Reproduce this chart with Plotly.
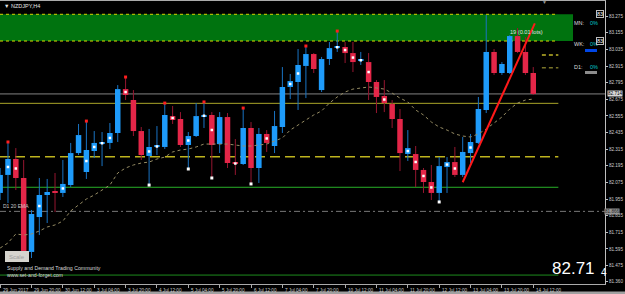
import plotly.graph_objects as go

# ---------------- data (NZDJPY, H4) ----------------
bar_index = list(range(-4, 65))
open_ = [81.999, 82.129, 82.244, 82.107, 81.573, 81.825, 81.984, 82.013, 81.999, 82.056,
         82.287, 82.150, 82.302, 82.356, 82.360, 82.432, 82.749, 82.670, 82.446, 82.266,
         82.331, 82.331, 82.554, 82.533, 82.345, 82.410, 82.551, 82.562, 82.352, 82.547,
         82.215, 82.208, 82.468, 82.179, 82.425, 82.338, 82.475, 82.764, 82.800, 82.916,
         83.002, 82.742, 82.966, 83.049, 83.053, 83.009, 82.955, 82.944, 82.800, 82.699,
         82.641, 82.533, 82.280, 82.280, 82.165, 82.078, 81.999, 82.186, 82.222, 82.129,
         82.287, 82.360, 82.598, 83.017, 82.865, 82.865, 83.132, 83.017, 82.865]
high = [82.179, 82.367, 82.323, 82.237, 81.876, 82.107, 82.100, 82.143, 82.237, 82.360,
        82.497, 82.518, 82.446, 82.439, 82.504, 82.778, 82.836, 82.742, 82.475, 82.461,
        82.482, 82.648, 82.627, 82.583, 82.439, 82.648, 82.656, 82.583, 82.583, 82.576,
        82.388, 82.612, 82.511, 82.468, 82.453, 82.591, 82.908, 82.858, 83.038, 83.060,
        83.009, 82.981, 83.089, 83.168, 83.089, 83.089, 83.017, 83.009, 82.814, 82.814,
        82.670, 82.605, 82.453, 82.338, 82.179, 82.201, 82.258, 82.258, 82.331, 82.403,
        82.425, 82.692, 83.284, 83.038, 82.944, 83.139, 83.190, 83.125, 82.908]
low = [81.948, 81.926, 82.020, 81.544, 81.529, 81.695, 81.782, 81.861, 81.970, 82.042,
       82.273, 82.100, 82.251, 82.193, 82.316, 82.367, 82.670, 82.410, 82.237, 82.056,
       82.273, 82.316, 82.497, 82.331, 82.172, 82.403, 82.468, 82.107, 82.287, 82.179,
       82.129, 82.201, 82.064, 82.071, 82.295, 82.287, 82.432, 82.677, 82.598, 82.684,
       82.865, 82.728, 82.923, 83.017, 82.937, 82.872, 82.923, 82.670, 82.576, 82.583,
       82.468, 82.157, 82.230, 82.042, 81.999, 81.948, 81.934, 81.999, 82.114, 82.114,
       82.215, 82.352, 82.576, 82.851, 82.851, 82.858, 83.009, 82.851, 82.706]
close = [82.129, 82.244, 82.107, 81.580, 81.847, 81.984, 82.006, 81.999, 82.064, 82.287,
         82.417, 82.309, 82.360, 82.360, 82.432, 82.749, 82.706, 82.446, 82.273, 82.331,
         82.338, 82.562, 82.526, 82.345, 82.410, 82.554, 82.562, 82.345, 82.547, 82.215,
         82.208, 82.468, 82.179, 82.425, 82.360, 82.482, 82.764, 82.807, 82.923, 83.002,
         82.894, 82.966, 83.045, 83.053, 83.009, 82.944, 82.959, 82.800, 82.692, 82.648,
         82.533, 82.287, 82.323, 82.165, 82.078, 81.999, 82.193, 82.222, 82.129, 82.295,
         82.367, 82.605, 83.017, 82.865, 82.930, 83.132, 83.017, 82.865, 82.714]
ema_h4 = [81.601, 81.638, 81.703, 81.695, 81.703, 81.724, 81.753, 81.768, 81.796, 81.869,
          81.912, 81.955, 81.984, 82.020, 82.056, 82.143, 82.179, 82.201, 82.215, 82.222,
          82.244, 82.258, 82.295, 82.309, 82.316, 82.331, 82.352, 82.352, 82.352, 82.352,
          82.345, 82.338, 82.338, 82.345, 82.352, 82.374, 82.396, 82.453, 82.490, 82.526,
          82.562, 82.591, 82.648, 82.692, 82.728, 82.749, 82.757, 82.764, 82.757, 82.749,
          82.720, 82.684, 82.656, 82.598, 82.562, 82.511, 82.475, 82.453, 82.425, 82.410,
          82.403, 82.425, 82.461, 82.504, 82.547, 82.605, 82.648, 82.670, 82.677]

up_fractal_bars = [-3, 7, 12, 17, 22, 27, 35, 39]
down_fractal_bars = [15, 20, 23, 28, 52]
signal_bars = [-3, -2, 1, 4, 7, 8, 9, 10, 12, 15, 16, 18, 20, 22, 23, 26, 30, 33, 34,
               39, 40, 41, 42, 43, 45, 48, 49, 50, 51, 53, 54, 56]

time_tick_bars = [-4] + list(range(0, 65, 4))
time_tick_labels = ["29 Jun 2017", "29 Jun 20:00", "30 Jun 12:00", "3 Jul 04:00", "3 Jul 20:00",
                    "4 Jul 12:00", "5 Jul 04:00", "5 Jul 20:00", "6 Jul 12:00", "7 Jul 04:00",
                    "7 Jul 20:00", "10 Jul 12:00", "11 Jul 04:00", "11 Jul 20:00", "12 Jul 12:00",
                    "13 Jul 04:00", "13 Jul 20:00", "14 Jul 12:00"]
price_ticks = [83.275, 83.155, 83.035, 82.915, 82.795, 82.675, 82.555, 82.435, 82.315,
               82.195, 82.075, 81.955, 81.835, 81.715, 81.595, 81.475, 81.360]

zone_top, zone_bottom = 83.289, 83.096
bid = 82.714
level_yellow = 82.646
level_dashed = 82.261
level_green = 82.040
d1_ema = 81.866
level_green_low = 81.406
mark_levels = [82.995, 82.903]
trend_x = [55.0, 64.2]
trend_y = [82.076, 83.224]
lot_text = "19 (0.01 lots)"
lot_pos = (60.8, 83.161)

# ---------------- geometry ----------------
X_RANGE = [-4.018, 73.15]
Y_RANGE = [81.3415, 83.385]
LINE_END = 67.2
ZONE_END = 69.07
FONT = "Liberation Sans, Arial, sans-serif"

def px(X):
    return X / 605.0

def py(Y):
    return (284.0 - Y) / 283.0

BLUE = "rgb(30,155,250)"
RED = "rgb(228,38,72)"
BLUE_WICK = "rgb(25,115,195)"
RED_WICK = "rgb(150,22,48)"

fig = go.Figure()

# wicks
for up, col in [(True, BLUE_WICK), (False, RED_WICK)]:
    xs, ys = [], []
    for i, o, h, l, c in zip(bar_index, open_, high, low, close):
        if (c >= o) != up:
            continue
        top, bot = max(o, c), min(o, c)
        xs += [i, i, None, i, i, None]
        ys += [h, top, None, bot, l, None]
    fig.add_trace(go.Scatter(x=xs, y=ys, mode="lines", line=dict(color=col, width=1),
                             hoverinfo="skip", connectgaps=False))

# bodies
bases = [min(o, c) for o, c in zip(open_, close)]
heights = [max(abs(c - o), 0.009) for o, c in zip(open_, close)]
colors = [BLUE if c >= o else RED for o, c in zip(open_, close)]
fig.add_trace(go.Bar(x=bar_index, y=heights, base=bases, width=0.7,
                     marker=dict(color=colors, line=dict(width=0)), hoverinfo="skip"))

# moving average
fig.add_trace(go.Scatter(x=bar_index, y=ema_h4, mode="lines",
                         line=dict(color="rgb(150,140,100)", width=1, dash="dot"),
                         hoverinfo="skip"))

# markers
pos = {b: k for k, b in enumerate(bar_index)}
fig.add_trace(go.Scatter(x=up_fractal_bars, y=[high[pos[b]] for b in up_fractal_bars],
                         mode="markers", marker=dict(symbol="square", size=3, color="rgb(255,30,30)"),
                         hoverinfo="skip"))
fig.add_trace(go.Scatter(x=down_fractal_bars, y=[low[pos[b]] for b in down_fractal_bars],
                         mode="markers", marker=dict(symbol="square", size=3, color="white"),
                         hoverinfo="skip"))
fig.add_trace(go.Scatter(x=signal_bars,
                         y=[(open_[pos[b]] + close[pos[b]]) / 2 for b in signal_bars],
                         mode="markers", marker=dict(symbol="square", size=2.5, color="white"),
                         hoverinfo="skip"))

# trend line
fig.add_trace(go.Scatter(x=trend_x, y=trend_y, mode="lines",
                         line=dict(color="rgb(255,25,25)", width=2), hoverinfo="skip"))

shapes = []
shapes.append(dict(type="rect", xref="x", yref="y", x0=X_RANGE[0], x1=ZONE_END,
                   y0=zone_bottom, y1=zone_top, fillcolor="rgb(0,115,15)",
                   line=dict(width=0), layer="below"))
for yv in [zone_top, zone_bottom]:
    shapes.append(dict(type="line", xref="x", yref="y", x0=X_RANGE[0], x1=LINE_END - 0.15,
                       y0=yv, y1=yv, line=dict(color="rgb(215,215,0)", width=1, dash="dot"),
                       layer="below"))

def hline(yv, color, dash="solid", width=1, x1=LINE_END, x0=X_RANGE[0]):
    shapes.append(dict(type="line", xref="x", yref="y", x0=x0, x1=x1, y0=yv, y1=yv,
                       line=dict(color=color, width=width, dash=dash), layer="below"))

hline(bid, "rgb(130,130,130)", x1=X_RANGE[1])
hline(level_yellow, "rgb(170,165,40)")
hline(level_dashed, "rgb(190,180,30)", dash="10px,5px", width=1.5)
hline(level_green, "rgb(40,175,40)")
hline(d1_ema, "rgb(120,120,120)", dash="6px,3px,2px,3px", x1=X_RANGE[1])
hline(level_green_low, "rgb(30,140,30)")
hline(mark_levels[0], "rgb(190,180,40)", dash="4px,3px", width=1.5, x0=65.1)
hline(mark_levels[1], "rgb(120,115,40)", dash="4px,3px", width=1.5, x0=65.1)

# right-side info bars
shapes.append(dict(type="rect", xref="paper", yref="paper", x0=px(585), x1=px(597),
                   y0=py(52), y1=py(49), fillcolor="rgb(0,70,230)", line=dict(width=0)))
shapes.append(dict(type="rect", xref="paper", yref="paper", x0=px(585), x1=px(597),
                   y0=py(74), y1=py(71), fillcolor="rgb(140,140,140)", line=dict(width=0)))
# Scale button
shapes.append(dict(type="rect", xref="paper", yref="paper", x0=px(5), x1=px(29),
                   y0=py(262), y1=py(251), fillcolor="rgb(214,212,206)", line=dict(width=0)))
# bottom strip
shapes.append(dict(type="rect", xref="paper", yref="paper", x0=0, x1=625 / 605.0,
                   y0=py(294.5), y1=py(291.5), fillcolor="rgb(160,160,160)", line=dict(width=0)))

ann = []
def text(x, y, s, size=5.5, color="rgb(220,220,220)", xanchor="left", yanchor="middle",
         xref="paper", yref="paper", **kw):
    ann.append(dict(x=x, y=y, xref=xref, yref=yref, text=s, showarrow=False,
                    xanchor=xanchor, yanchor=yanchor,
                    font=dict(family=FONT, size=size, color=color), **kw))

for b, lab in zip(time_tick_bars, time_tick_labels):
    text(b, 0, lab, size=4.6, color="rgb(205,205,205)", xref="x", yanchor="top", yshift=-1.5,
         xshift=0.5)

text(px(2), py(5.5), "▼ NZDJPY,H4", size=5.5, color="rgb(230,230,230)")
text(px(1), d1_ema, "D1 20 EMA", size=5, color="rgb(200,200,200)", yref="y", yanchor="bottom")
text(lot_pos[0], lot_pos[1], lot_text, size=5.6, color="rgb(225,225,225)", xref="x", yref="y")
for lbl, Y in [("MN:", 23), ("WK:", 44), ("D1:", 67)]:
    text(px(572), py(Y), lbl, size=5.5, color="rgb(220,220,220)")
    text(px(588), py(Y), "0%", size=5.5, color="rgb(0,200,210)")
for yv in [zone_top, zone_bottom]:
    text(px(604), yv, "83", size=5.5, color="white", xanchor="right", yref="y",
         bgcolor="black", bordercolor="rgb(190,190,190)", borderwidth=1, borderpad=0)
text(px(606.5), bid, "82.714", size=4.6, color="black", yref="y",
     bgcolor="rgb(215,215,215)", borderpad=0)
text(px(604), d1_ema, "81.866", size=4.6, color="rgb(40,40,40)", yref="y",
     bgcolor="rgb(150,150,150)", borderpad=0)
text(px(17), py(256.5), "Scale", size=6, color="rgb(160,160,160)", xanchor="center")
text(px(5), py(267.5), "Supply and Demand Trading Community", size=5.2)
text(px(5), py(275), "www.set-and-forget.com", size=5.2)
text(px(597), py(280), "82.71", size=17, color="white", xanchor="right", yanchor="bottom")
text(px(599), py(280), "4", size=10, color="white", yanchor="bottom")
text(px(544), py(1.5), "▼", size=5, color="rgb(150,150,150)", xanchor="center")

fig.update_layout(
    width=625, height=294,
    margin=dict(l=0, r=20, t=1, b=10),
    paper_bgcolor="black", plot_bgcolor="black",
    showlegend=False, barmode="overlay",
    shapes=shapes, annotations=ann,
    xaxis=dict(range=X_RANGE, showgrid=False, zeroline=False, showline=True,
               linecolor="rgb(170,170,170)", linewidth=1, mirror=True,
               tickvals=time_tick_bars, showticklabels=False, ticks="outside",
               ticklen=3, tickcolor="rgb(170,170,170)", automargin=False, fixedrange=True),
    yaxis=dict(range=Y_RANGE, side="right", showgrid=False, zeroline=False, showline=True,
               linecolor="rgb(190,190,190)", linewidth=1, tickvals=price_ticks,
               ticktext=[f"{v:.3f}" for v in price_ticks], ticks="outside", ticklen=2,
               tickcolor="rgb(190,190,190)",
               tickfont=dict(family=FONT, size=4.6, color="rgb(205,205,205)"),
               automargin=False, fixedrange=True),
)

fig.write_html("out.html")
